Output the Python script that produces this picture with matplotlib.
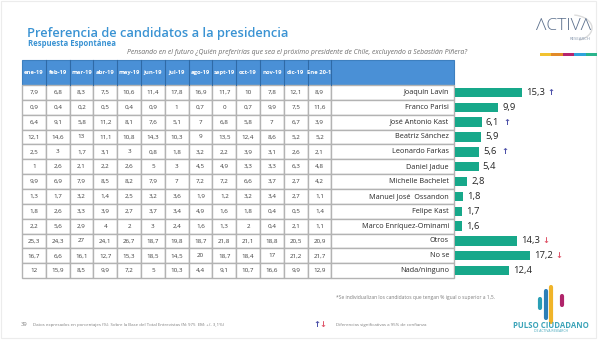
import matplotlib
matplotlib.use("Agg")
import matplotlib.pyplot as plt
from matplotlib.patches import Rectangle, Arc
import numpy as np

plt.rcParams['font.family'] = ['Open Sans', 'DejaVu Sans']

months = ["ene-19", "feb-19", "mar-19", "abr-19", "may-19", "jun-19", "jul-19",
          "ago-19", "sept-19", "oct-19", "nov-19", "dic-19", "Ene 20-1"]
candidates = ["Joaquín Lavín", "Franco Parisi", "José Antonio Kast", "Beatriz Sánchez",
              "Leonardo Farkas", "Daniel Jadue", "Michelle Bachelet",
              "Manuel José  Ossandon", "Felipe Kast", "Marco Enríquez-Ominami",
              "Otros", "No se", "Nada/ninguno"]
history = [
    [7.9, 6.8, 8.3, 7.5, 10.6, 11.4, 17.8, 16.9, 11.7, 10, 7.8, 12.1, 8.9],
    [0.9, 0.4, 0.2, 0.5, 0.4, 0.9, 1, 0.7, 0, 0.7, 9.9, 7.5, 11.6],
    [6.4, 9.1, 5.8, 11.2, 8.1, 7.6, 5.1, 7, 6.8, 5.8, 7, 6.7, 3.9],
    [12.1, 14.6, 13, 11.1, 10.8, 14.3, 10.3, 9, 13.5, 12.4, 8.6, 5.2, 5.2],
    [2.5, 3, 1.7, 3.1, 3, 0.8, 1.8, 3.2, 2.2, 3.9, 3.1, 2.6, 2.1],
    [1, 2.6, 2.1, 2.2, 2.6, 5, 3, 4.5, 4.9, 3.3, 3.3, 6.3, 4.8],
    [9.9, 6.9, 7.9, 8.5, 8.2, 7.9, 7, 7.2, 7.2, 6.6, 3.7, 2.7, 4.2],
    [1.3, 1.7, 3.2, 1.4, 2.5, 3.2, 3.6, 1.9, 1.2, 3.2, 3.4, 2.7, 1.1],
    [1.8, 2.6, 3.3, 3.9, 2.7, 3.7, 3.4, 4.9, 1.6, 1.8, 0.4, 0.5, 1.4],
    [2.2, 5.6, 2.9, 4, 2, 3, 2.4, 1.6, 1.3, 2, 0.4, 2.1, 1.1],
    [25.3, 24.3, 27, 24.1, 26.7, 18.7, 19.8, 18.7, 21.8, 21.1, 18.8, 20.5, 20.9],
    [16.7, 6.6, 16.1, 12.7, 15.3, 18.5, 14.5, 20, 18.7, 18.4, 17, 21.2, 21.7],
    [12, 15.9, 8.5, 9.9, 7.2, 5, 10.3, 4.4, 9.1, 10.7, 16.6, 9.9, 12.9],
]
current = [15.3, 9.9, 6.1, 5.9, 5.6, 5.4, 2.8, 1.8, 1.7, 1.6, 14.3, 17.2, 12.4]
change = ["up", "", "up", "", "up", "", "", "", "", "", "down", "down", ""]

def fmt(v):
    if float(v) == int(v):
        return str(int(v))
    return f"{v:.1f}".replace(".", ",")

W, H = 602, 351
fig = plt.figure(figsize=(W / 100, H / 100), dpi=100)
bg = fig.add_axes([0, 0, 1, 1])
bg.set_xlim(0, W)
bg.set_ylim(H, 0)
bg.axis("off")

# slide frame
bg.add_patch(Rectangle((1, 1), 595, 337, fill=False, ec="#ececec", lw=0.8))

title_c = "#3a93d3"
bg.text(27, 37.5, "Preferencia de candidatos a la presidencia", fontsize=9.3,
        color=title_c, fontweight="semibold", va="baseline")
bg.text(28, 46.5, "Respuesta Espontánea", fontsize=5.6, color=title_c,
        fontweight="bold", va="baseline")
bg.text(467, 54.5, "Pensando en el futuro ¿Quién preferirías que sea el próximo presidente de Chile, excluyendo a Sebastián Piñera?",
        fontsize=4.95, color="#6e6e6e", style="italic", ha="right", va="baseline")

# table geometry
x0, cw = 22.0, 23.8
htop, hh = 60.0, 25.0
rh = 14.85
ncol = len(months)
name_l = x0 + ncol * cw
name_r = 454.0
nrow = len(candidates)
hdr_c = "#4a90d6"

bg.add_patch(Rectangle((x0, htop), name_r - x0, hh, fc=hdr_c, ec="#3d7fbf", lw=0.8))
for j, m in enumerate(months):
    if j > 0:
        bg.plot([x0 + j * cw] * 2, [htop, htop + hh], color="#2f6aa6", lw=0.8)
    bg.text(x0 + (j + 0.5) * cw, htop + hh / 2, m, fontsize=4.2, color="white",
            fontweight="bold", ha="center", va="center")
bg.plot([name_l] * 2, [htop, htop + hh], color="#2f6aa6", lw=0.8)

ttop = htop + hh
grid_c = "#b3b3b3"
for i, name in enumerate(candidates):
    y = ttop + i * rh
    for j in range(ncol):
        bg.add_patch(Rectangle((x0 + j * cw, y), cw, rh, fc="white", ec=grid_c, lw=1.0))
        bg.text(x0 + (j + 0.5) * cw, y + rh / 2, fmt(history[i][j]), fontsize=4.5,
                color="#404040", ha="center", va="center")
    bg.add_patch(Rectangle((name_l, y), name_r - name_l, rh, fc="white", ec=grid_c, lw=1.0))
    bg.text(name_r - 5, y + rh / 2, name, fontsize=5.2, color="#262626",
            ha="right", va="center")

# bars
tbot = ttop + nrow * rh
bx0, bx1 = 455.0, 592.0
pxu = 4.36
ax = fig.add_axes([bx0 / W, 1 - tbot / H, (bx1 - bx0) / W, (tbot - ttop) / H])
ypos = np.arange(nrow)
ax.barh(ypos, current, height=0.63, color="#17a88a")
ax.set_xlim(0, (bx1 - bx0) / pxu)
ax.set_ylim(nrow - 0.5, -0.5)
ax.axis("off")
for i, v in enumerate(current):
    lab = fmt(v)
    ax.annotate(lab, (v, i), xytext=(3, 0), textcoords="offset points",
                fontsize=6.8, color="#262626", va="center", ha="left")
    if change[i]:
        off = (4 + len(lab) * 3.7 + 10) * 0.72
        sym = "↑" if change[i] == "up" else "↓"
        col = "#4b4fa8" if change[i] == "up" else "#e0566a"
        ax.annotate(sym, (v, i), xytext=(off, 0), textcoords="offset points",
                    fontsize=6.0, color=col, fontweight="bold", va="center",
                    ha="center", family="DejaVu Sans")

# footnotes
bg.text(495, 298, "*Se individualizan los candidatos que tengan % igual o superior a 1,5.",
        fontsize=3.6, color="#7f7f7f", ha="right", va="center")
bg.text(21, 325, "39", fontsize=4.2, color="#7f7f7f", va="center")
bg.text(33, 325, "Datos expresados en porcentajes (%). Sobre la Base del Total Entrevistas (N: 975  EM: +/- 3,1%)",
        fontsize=3.15, color="#7f7f7f", va="center")
bg.text(317, 324.5, "↑", fontsize=6, color="#4b4fa8", fontweight="bold", ha="center",
        va="center", family="DejaVu Sans")
bg.text(323, 324.5, "↓", fontsize=6, color="#e0566a", fontweight="bold", ha="center",
        va="center", family="DejaVu Sans")
bg.text(336, 325, "Diferencias significativas a 95% de confianza", fontsize=3.2,
        color="#7f7f7f", va="center")

# ACTIVA logo
bg.text(564, 26, "ΛCTIVΛ", fontsize=12.5, color="#5b6f8c", ha="center", va="center",
        fontweight="light")
bg.text(580, 38.5, "RESEARCH", fontsize=3.2, color="#8a9ab0", ha="center", va="center")
bg.add_patch(Arc((572, 28), 40, 26, theta1=-80, theta2=60, color="#dcdcdc", lw=1.0))
strip = ["#f2c230", "#e28a28", "#b5246e", "#2ea3dc", "#2ab48c"]
for k, c in enumerate(strip):
    bg.add_patch(Rectangle((540 + k * 11.4, 52.5), 11.4, 3.2, fc=c, ec="none"))

# Pulso Ciudadano logo
logo = [(540, 299, 308, "#2a9fb5"), (546, 291, 318, "#2c7fb8"), (551, 287, 322, "#f0b429"),
        (562, 296, 305, "#b0246a")]
for x, y1, y2, c in logo:
    bg.plot([x, x], [y1, y2], color=c, lw=3, solid_capstyle="round")
bg.text(551, 325.5, "PULSO CIUDADANO", fontsize=5.6, color="#3aa3b8",
        fontweight="bold", ha="center", va="center")
bg.text(551, 331.5, "DE ACTIVA RESEARCH", fontsize=2.4, color="#3aa3b8",
        ha="center", va="center")

fig.savefig("out.png", dpi=100)
